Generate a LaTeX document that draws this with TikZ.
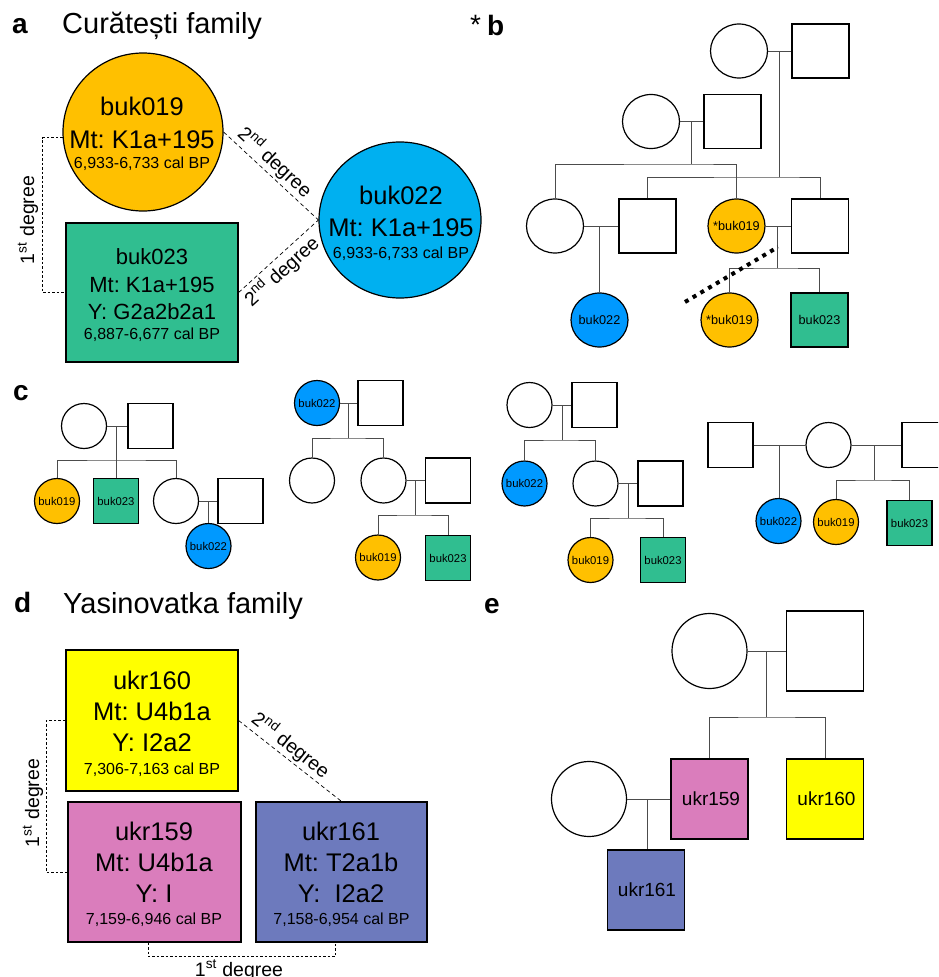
\documentclass[tikz,border=0pt]{standalone}
\usepackage{fontspec}
\setmainfont{Liberation Sans}
\usetikzlibrary{shapes.geometric,calc}
\frenchspacing
\definecolor{orng}{RGB}{255,192,0}
\definecolor{skyb}{RGB}{0,176,240}
\definecolor{bluB}{RGB}{0,153,255}
\definecolor{grn}{RGB}{48,190,144}
\definecolor{yel}{RGB}{255,255,0}
\definecolor{pnk}{RGB}{218,125,188}
\definecolor{prp}{RGB}{109,122,189}
\newcommand{\fsz}[1]{\fontsize{#1}{#1}\selectfont}
\newcommand{\zb}[1]{\makebox[0pt]{#1}}
\tikzset{
  shp/.style={draw=black, line width=1.2pt, inner sep=0pt},
  fem/.style={shp, ellipse},
  mal/.style={shp, rectangle},
  bfem/.style={fem, minimum width=57pt, minimum height=54pt, font=\fsz{12.7}},
  bmal/.style={mal, minimum width=57pt, minimum height=54pt, font=\fsz{12.7}},
  cfem/.style={fem, minimum width=45pt, minimum height=45pt, font=\fsz{11.3}},
  cmal/.style={mal, minimum width=45pt, minimum height=45pt, font=\fsz{11.3}},
  efem/.style={fem, minimum width=75pt, minimum height=75pt},
  emal/.style={mal, minimum width=77pt, minimum height=80pt, font=\fsz{19}},
  pl/.style={draw=black!70, line width=0.9pt},
  dsh/.style={draw=black, line width=0.7pt, dash pattern=on 4pt off 3pt},
  brk/.style={draw=black, line width=0.7pt, dash pattern=on 2.5pt off 2pt},
  tx/.style={inner sep=0pt, anchor=base},
  plab/.style={font=\fsz{28}\bfseries, inner sep=0pt, anchor=base west},
  deg/.style={font=\fsz{19.5}, inner sep=2pt},
  dots/.style={draw=black, line width=4pt, dash pattern=on 4pt off 5pt},
}
\begin{document}
\begin{tikzpicture}[x=1pt,y=-1pt]
\useasboundingbox (0,0) rectangle (938,977);
\fill[white] (0,0) rectangle (938,977);
\clip (0,0) rectangle (938,977);

% ---------------- panel a ----------------
\node[plab] (la) at (12,33) {a};
\node[inner sep=0pt, anchor=base west, font=\fsz{29}] (ta) at (62,33) {Curătești family};

\node[fem, fill=orng, minimum width=160pt, minimum height=158pt] (a19) at (143,132) {};
\node[tx, font=\fsz{25.5}] (a19t1) at (142,115) {buk019};
\node[tx, font=\fsz{25.5}] (a19t2) at (142,148) {Mt: K1a+195};
\node[tx, font=\fsz{16}] (a19t3) at (142,168) {6,933-6,733 cal BP};

\node[mal, fill=grn, minimum width=172pt, minimum height=139pt] (a23) at (152,292.5) {};
\node[tx, font=\fsz{22}] (a23t1) at (152,264) {buk023};
\node[tx, font=\fsz{22}] (a23t2) at (152,292) {Mt: K1a+195};
\node[tx, font=\fsz{22}] (a23t3) at (152,319) {Y: G2a2b2a1};
\node[tx, font=\fsz{16}] (a23t4) at (152,339) {6,887-6,677 cal BP};

\node[fem, fill=skyb, minimum width=162pt, minimum height=156pt] (a22) at (400,220) {};
\node[tx, font=\fsz{25.5}] (a22t1) at (401,204) {buk022};
\node[tx, font=\fsz{25.5}] (a22t2) at (401,236) {Mt: K1a+195};
\node[tx, font=\fsz{16}] (a22t3) at (401,258) {6,933-6,733 cal BP};

\draw[dsh] (a19.east) -- node[deg, sloped, above, pos=0.45] (l2a) {2\textsuperscript{nd} degree} (a22.west);
\draw[dsh] (a23.east) -- node[deg, sloped, below, pos=0.43] (l2b) {2\textsuperscript{nd} degree} (a22.west);
\draw[brk] (a19.184) -- ++(-20,0) |- (a23.west);
\node[deg, rotate=90] (l1a) at (28,220) {1\textsuperscript{st} degree};

% ---------------- panel b ----------------
\node[font=\fsz{28}, inner sep=0pt, anchor=base west] (ast) at (470,34) {*};
\node[plab] (lb) at (487,35) {b};

\node[bfem] (bF1) at (739,51) {};
\node[bmal] (bM1) at (820.5,51) {};
\coordinate (bJ1) at (779,51);
\coordinate (bB1) at (779,177);

\node[bfem] (bF2) at (651,121.5) {};
\node[bmal] (bM2) at (732.5,121.5) {};
\coordinate (bJ2) at (691,121.5);
\coordinate (bB2) at (691,164);

\node[bfem] (bF3) at (555,226) {};
\node[bmal] (bM3) at (647.5,226) {};
\node[bfem, fill=orng] (bO1) at (736.5,226) {\zb{*buk019}};
\node[bmal] (bM4) at (820,226) {};
\coordinate (bJ3) at (599,226);
\coordinate (bJ4) at (777,226);
\coordinate (bB4) at (777,268);

\node[bfem, fill=bluB] (bBl) at (599.5,320) {\zb{buk022}};
\node[bfem, fill=orng] (bO2) at (729.5,320) {\zb{*buk019}};
\node[bmal, fill=grn] (bG) at (819.5,320) {buk023};

\draw[pl] (bF1.east) -- (bM1.west);
\draw[pl] (bJ1) -- (bB1);
\draw[pl] (bM3.north) |- (bB1) -| (bM4.north);
\draw[pl] (bF2.east) -- (bM2.west);
\draw[pl] (bJ2) -- (bB2);
\draw[pl] (bF3.north) |- (bB2) -| (bO1.north);
\draw[pl] (bF3.east) -- (bM3.west);
\draw[pl] (bJ3) -- (bJ3 |- bBl.north);
\draw[pl] (bO1.east) -- (bM4.west);
\draw[pl] (bJ4) -- (bB4);
\draw[pl] (bO2.north) |- (bB4) -| (bG.north);
\coordinate (dA) at (685,302);
\coordinate (dB) at (778,247);
\draw[dots] (dA) -- (dB);

% ---------------- panel c ----------------
\node[plab] (lc) at (13,400) {c};
% tree 1
\node[cfem] (c1F) at (84,426) {};
\node[cmal] (c1M) at (150.5,426) {};
\coordinate (c1J) at (116,426);
\coordinate (c1B) at (116,460);
\node[cfem, fill=orng] (c1O) at (57,501) {\zb{buk019}};
\node[cmal, fill=grn] (c1G) at (116,501) {\zb{buk023}};
\node[cfem] (c1F2) at (176,501) {};
\node[cmal] (c1M2) at (240.5,501) {};
\coordinate (c1J2) at (208,501);
\node[cfem, fill=bluB] (c1Bl) at (208.5,546) {\zb{buk022}};
\draw[pl] (c1F.east) -- (c1M.west);
\draw[pl] (c1J) -- (c1G.north);
\draw[pl] (c1O.north) |- (c1B) -| (c1F2.north);
\draw[pl] (c1F2.east) -- (c1M2.west);
\draw[pl] (c1J2) -- (c1J2 |- c1Bl.north);
% tree 2
\node[cfem, fill=bluB] (c2Bl) at (317,403) {\zb{buk022}};
\node[cmal] (c2M) at (380.5,403) {};
\coordinate (c2J) at (348,403);
\coordinate (c2B) at (348,438);
\node[cfem] (c2F1) at (312,480.5) {};
\node[cfem] (c2F2) at (383.5,480.5) {};
\node[cmal] (c2M2) at (448,480.5) {};
\coordinate (c2J2) at (415,480.5);
\coordinate (c2B2) at (415,515);
\node[cfem, fill=orng] (c2O) at (378,557.5) {\zb{buk019}};
\node[cmal, fill=grn] (c2G) at (448,558) {\zb{buk023}};
\draw[pl] (c2Bl.east) -- (c2M.west);
\draw[pl] (c2J) -- (c2B);
\draw[pl] (c2F1.north) |- (c2B) -| (c2F2.north);
\draw[pl] (c2F2.east) -- (c2M2.west);
\draw[pl] (c2J2) -- (c2B2);
\draw[pl] (c2O.north) |- (c2B2) -| (c2G.north);
% tree 3
\node[cfem] (c3F) at (529.5,405) {};
\node[cmal] (c3M) at (594.5,405) {};
\coordinate (c3J) at (562,405);
\coordinate (c3B) at (562,440);
\node[cfem, fill=bluB] (c3Bl) at (524.5,483.5) {\zb{buk022}};
\node[cfem] (c3F2) at (595.5,483.5) {};
\node[cmal] (c3M2) at (660.5,483.5) {};
\coordinate (c3J2) at (628,483.5);
\coordinate (c3B2) at (628,518);
\node[cfem, fill=orng] (c3O) at (590.5,560) {\zb{buk019}};
\node[cmal, fill=grn] (c3G) at (663,560) {\zb{buk023}};
\draw[pl] (c3F.east) -- (c3M.west);
\draw[pl] (c3J) -- (c3B);
\draw[pl] (c3Bl.north) |- (c3B) -| (c3F2.north);
\draw[pl] (c3F2.east) -- (c3M2.west);
\draw[pl] (c3J2) -- (c3B2);
\draw[pl] (c3O.north) |- (c3B2) -| (c3G.north);
% tree 4
\node[cmal] (c4M1) at (730.5,445) {};
\node[cfem] (c4F) at (828.5,445) {};
\node[cmal] (c4M2) at (924.5,445) {};
\coordinate (c4J) at (779,445);
\coordinate (c4J2) at (874,445);
\coordinate (c4B2) at (874,480);
\node[cfem, fill=bluB] (c4Bl) at (778.5,521) {\zb{buk022}};
\node[cfem, fill=orng] (c4O) at (836,522) {\zb{buk019}};
\node[cmal, fill=grn] (c4G) at (909.5,523) {\zb{buk023}};
\draw[pl] (c4M1.east) -- (c4F.west);
\draw[pl] (c4F.east) -- (c4M2.west);
\draw[pl] (c4J) -- (c4J |- c4Bl.north);
\draw[pl] (c4J2) -- (c4B2);
\draw[pl] (c4O.north) |- (c4B2) -| (c4G.north);

% ---------------- panel d ----------------
\node[plab] (ld) at (14,612) {d};
\node[inner sep=0pt, anchor=base west, font=\fsz{29}] (td) at (63,613) {Yasinovatka family};

\node[mal, fill=yel, minimum width=172pt, minimum height=141pt] (u160) at (152,720.5) {};
\node[tx, font=\fsz{25.5}] (u160a) at (152,689) {ukr160};
\node[tx, font=\fsz{25.5}] (u160b) at (152,720) {Mt: U4b1a};
\node[tx, font=\fsz{25.5}] (u160c) at (152,751) {Y: I2a2};
\node[tx, font=\fsz{16}] (u160d) at (152,774) {7,306-7,163 cal BP};

\node[mal, fill=pnk, minimum width=173pt, minimum height=140pt] (u159) at (154.5,872) {};
\node[tx, font=\fsz{25.5}] (u159a) at (154,840) {ukr159};
\node[tx, font=\fsz{25.5}] (u159b) at (154,871) {Mt: U4b1a};
\node[tx, font=\fsz{25.5}] (u159c) at (154,902) {Y: I};
\node[tx, font=\fsz{16}] (u159d) at (154,924) {7,159-6,946 cal BP};

\node[mal, fill=prp, minimum width=171pt, minimum height=140pt] (u161) at (341.5,872) {};
\node[tx, font=\fsz{25.5}] (u161a) at (341,840) {ukr161};
\node[tx, font=\fsz{25.5}] (u161b) at (341,871) {Mt: T2a1b};
\node[tx, font=\fsz{25.5}] (u161c) at (341,902) {Y:~~I2a2};
\node[tx, font=\fsz{16}] (u161d) at (341.5,924) {7,158-6,954 cal BP};

\draw[dsh] (u160.east) -- node[deg, sloped, above, pos=0.43] (l2d) {2\textsuperscript{nd} degree} (u161.north);
\draw[brk] (u160.west) -- ++(-19,0) |- (u159.west);
\node[deg, rotate=90] (l1d) at (33,803) {1\textsuperscript{st} degree};
\draw[brk] ($(u159.south)+(-6.5,0)$) -- ++(0,14) -| ($(u161.south)+(-6.5,0)$);
\node[tx, font=\fsz{19.5}] (l1e) at (239,976) {1\textsuperscript{st} degree};

% ---------------- panel e ----------------
\node[plab] (le) at (484,613) {e};
\node[efem] (eF) at (709.5,651) {};
\node[emal] (eM) at (825,651) {};
\coordinate (eJ) at (766,651);
\coordinate (eB) at (766,717);
\node[emal, fill=pnk] (e159) at (709.5,799) {\hspace*{3pt}ukr159};
\node[emal, fill=yel] (e160) at (825,799) {\hspace*{3pt}ukr160};
\node[efem] (eF2) at (589,799) {};
\coordinate (eJ2) at (647,799);
\node[emal, fill=prp] (e161) at (646,890) {\hspace*{2pt}ukr161};
\draw[pl] (eF.east) -- (eM.west);
\draw[pl] (eJ) -- (eB);
\draw[pl] (e159.north) |- (eB) -| (e160.north);
\draw[pl] (eF2.east) -- (e159.west);
\draw[pl] (eJ2) -- (eJ2 |- e161.north);
\end{tikzpicture}
\end{document}
